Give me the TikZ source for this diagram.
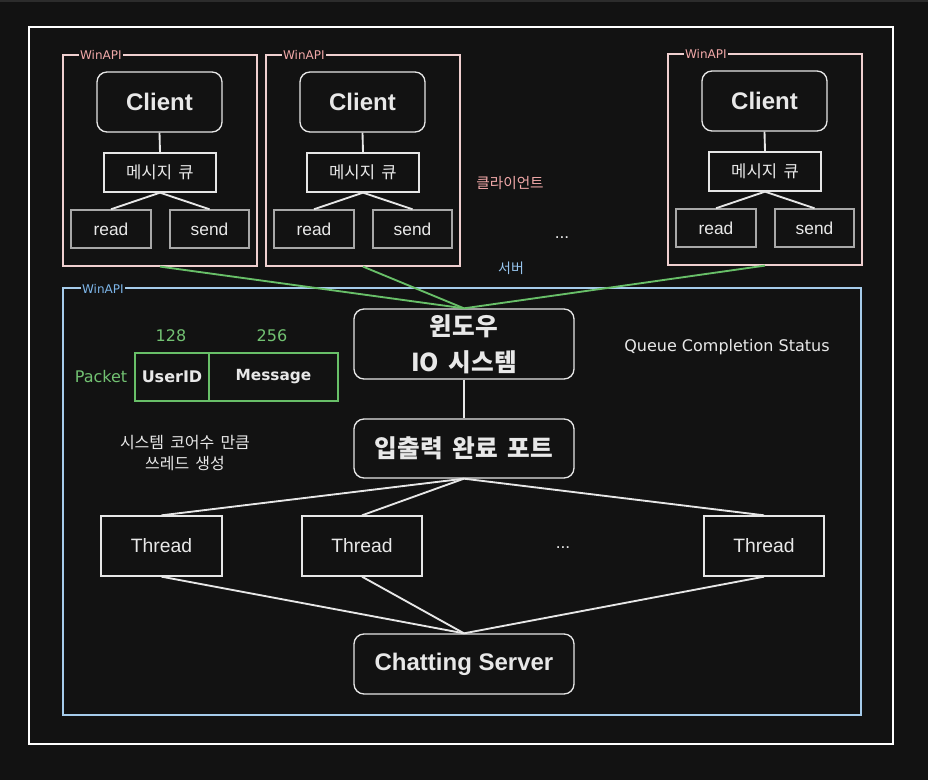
\documentclass[tikz,border=0pt]{standalone}
\usepackage{fontspec}
\setmainfont{Liberation Sans}
\newfontfamily\kr[WordSpace=1.7]{Noto Sans CJK KR}
\newfontfamily\cm{DejaVu Sans}
\usetikzlibrary{fit}
\definecolor{bg}{HTML}{121212}
\definecolor{topgray}{HTML}{2C2C2C}
\definecolor{wline}{HTML}{E6E6E6}
\definecolor{gline}{HTML}{A8A8A8}
\definecolor{pinkf}{HTML}{EFCFCF}
\definecolor{pinkt}{HTML}{F2A9A9}
\definecolor{bluef}{HTML}{A6CCEB}
\definecolor{bluet}{HTML}{7DB6EA}
\definecolor{greenl}{HTML}{68BF68}
\definecolor{greent}{HTML}{72C172}
\definecolor{txt}{HTML}{E8E8E8}
\begin{document}
\begin{tikzpicture}[x=0.75pt,y=-0.75pt,
  line width=1.1pt,
  outerframe/.style={draw=white, line width=1.2pt, inner sep=0pt},
  pinkframe/.style={draw=pinkf, line width=0.9pt, inner sep=0pt},
  blueframe/.style={draw=bluef, line width=0.9pt, inner sep=0pt},
  winlbl/.style={fill=bg, inner sep=1pt, font=\cm\fontsize{9}{10}\selectfont, anchor=west},
  rbox/.style={draw=wline, line width=1pt, rounded corners=7.5pt, inner sep=0pt},
  sbox/.style={draw=wline, line width=1pt, inner sep=0pt},
  gbox/.style={draw=gline, line width=1.1pt, inner sep=0pt},
  tx/.style={text=txt, inner sep=0pt},
  clientfont/.style={tx, font=\fontsize{18}{20}\selectfont\bfseries},
  msgfont/.style={tx, font=\kr\fontsize{12.5}{14}\selectfont},
  rsfont/.style={tx, font=\fontsize{13}{15}\selectfont},
  thfont/.style={tx, font=\fontsize{14.5}{16}\selectfont},
  krbold/.style={tx, align=center, font=\kr\bfseries\fontsize{18.5}{27}\selectfont},
  conn/.style={draw=wline, line width=1.4pt},
  gconn/.style={draw=greenl, line width=1.4pt},
  pbox/.style={draw=greenl, line width=0.9pt, inner sep=0pt},
  pfont/.style={tx, font=\cm\bfseries\fontsize{12}{13}\selectfont},
  gtext/.style={text=greent, font=\cm\fontsize{12}{14}\selectfont}
]
\fill[bg] (0,0) rectangle (928,780);
\fill[topgray] (0,0) rectangle (928,2.5);
\useasboundingbox (0,0) rectangle (928,780);

% outer frame
\node[outerframe, fit={(29,27)(893,744)}] (outer) {};

% client groups
\foreach \i/\dx/\dy in {1/0/0, 2/203/0, 3/605/-1} {
  \begin{scope}[shift={(\dx,\dy)}]
    \node[pinkframe, fit={(63,55)(257,266)}] (f\i) {};
    \node[winlbl, text=pinkt] (w\i) at (78,55) {WinAPI};
    \node[rbox, fit={(97,72)(222,132)}] (c\i) {};
    \node[clientfont] (ct\i) at (c\i.center) {Client};
    \node[sbox, fit={(104,153)(216,192)}] (m\i) {};
    \node[msgfont] (mt\i) at (m\i.center) {메시지 큐};
    \node[gbox, fit={(71,210)(151,248)}] (r\i) {};
    \node[rsfont] (rt\i) at (r\i.center) {read};
    \node[gbox, fit={(170,210)(249,248)}] (s\i) {};
    \node[rsfont] (st\i) at (s\i.center) {send};
    \draw[conn] (c\i.south) -- (m\i.north);
    \draw[conn] (m\i.south) -- (r\i.north);
    \draw[conn] (m\i.south) -- (s\i.north);
  \end{scope}
}

\node[text=pinkt, font=\kr\fontsize{11}{13}\selectfont] (cl) at (510,183) {클라이언트};
\node[tx, font=\fontsize{13}{15}\selectfont] (dots1) at (562,238) {...};
\node[text=bluet!80!white, font=\kr\fontsize{10.5}{13}\selectfont] (sv) at (511,268) {서버};

% server frame
\node[blueframe, fit={(63,288)(861,715)}] (srv) {};
\node[winlbl, text=bluet] (w4) at (80,289) {WinAPI};

% windows IO
\node[rbox, fit={(354,309)(574,379)}] (win) {};
\node[krbold] (wint) at (win.center) {윈도우\\IO 시스템};
\node[rbox, fit={(354,419)(574,478)}] (port) {};
\node[krbold] (portt) at (port.center) {입출력 완료 포트};
\draw[conn] (win.south) -- (port.north);

\foreach \i in {1,2,3} { \draw[gconn] (f\i.south) -- (win.north); }

\node[tx, font=\cm\fontsize{12}{14}\selectfont] (qcs) at (727,347) {Queue Completion Status};

% packet
\node[gtext] (pk) at (101,377) {Packet};
\node[pbox, fit={(135,353)(209,401)}] (uid) {};
\node[pfont] (uidt) at (uid.center) {UserID};
\node[pbox, fit={(209,353)(338,401)}] (msg) {};
\node[pfont, font=\cm\bfseries\fontsize{11.5}{13}\selectfont] (msgt) at (msg.center) {Message};
\node[gtext] (n128) at (171,336) {128};
\node[gtext] (n256) at (272,336) {256};

\node[tx, align=center, font=\kr\fontsize{12}{16}\selectfont] (core) at (185,453) {시스템 코어수 만큼\\쓰레드 생성};

% threads
\node[sbox, fit={(101,516)(222,576)}] (t1) {};
\node[thfont] (tt1) at (t1.center) {Thread};
\node[sbox, fit={(302,516)(422,576)}] (t2) {};
\node[thfont] (tt2) at (t2.center) {Thread};
\node[sbox, fit={(704,516)(824,576)}] (t3) {};
\node[thfont] (tt3) at (t3.center) {Thread};
\node[tx, font=\fontsize{13}{15}\selectfont] (dots2) at (563,548) {...};

\node[rbox, fit={(354,634)(574,694)}] (cs) {};
\node[clientfont] (cst) at (cs.center) {Chatting Server};

\foreach \i in {1,2,3} {
  \draw[conn] (port.south) -- (t\i.north);
  \draw[conn] (t\i.south) -- (cs.north);
}
\end{tikzpicture}
\end{document}
